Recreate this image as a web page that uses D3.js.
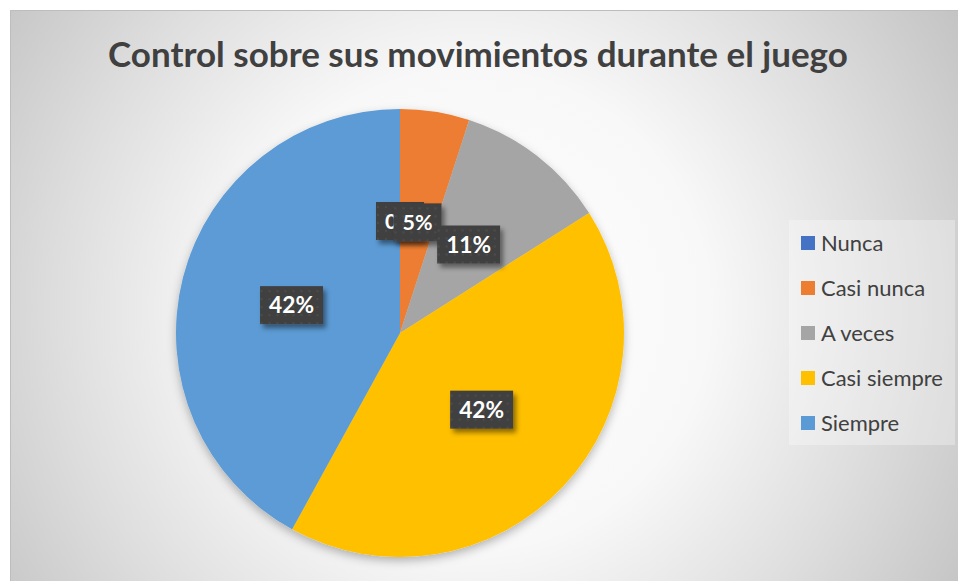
<!DOCTYPE html>
<html>
<head>
<meta charset="utf-8">
<script src="https://cdn.jsdelivr.net/npm/d3@7"></script>
<style>
  html, body { margin: 0; padding: 0; background: #ffffff; }
  svg { display: block; }
</style>
</head>
<body>
<svg id="chart" width="958" height="581"></svg>
<script>
const title = "Control sobre sus movimientos durante el juego";
const categories = ["Nunca", "Casi nunca", "A veces", "Casi siempre", "Siempre"];
const values = [0, 5, 11, 42, 42];
const colors = ["#4472C4", "#ED7D31", "#A5A5A5", "#FFC000", "#5B9BD5"];

const svg = d3.select("#chart");
const defs = svg.append("defs");

const bg = defs.append("radialGradient").attr("id", "bgGrad")
  .attr("gradientUnits", "userSpaceOnUse")
  .attr("cx", 470).attr("cy", 310).attr("r", 570);
[[0, "#ffffff"], [0.42, "#f8f8f8"], [0.72, "#dedede"], [1, "#c4c4c4"]]
  .forEach(([o, c]) => bg.append("stop").attr("offset", o).attr("stop-color", c));

const pieShadow = defs.append("filter").attr("id", "pieShadow")
  .attr("x", "-20%").attr("y", "-20%").attr("width", "140%").attr("height", "140%");
pieShadow.append("feDropShadow").attr("dx", 0).attr("dy", 4).attr("stdDeviation", 5)
  .attr("flood-color", "#000").attr("flood-opacity", 0.28);

const boxShadow = defs.append("filter").attr("id", "boxShadow")
  .attr("x", "-30%").attr("y", "-30%").attr("width", "160%").attr("height", "160%");
boxShadow.append("feDropShadow").attr("dx", 3).attr("dy", 4).attr("stdDeviation", 2.5)
  .attr("flood-color", "#000").attr("flood-opacity", 0.45);

const pat = defs.append("pattern").attr("id", "dots")
  .attr("patternUnits", "userSpaceOnUse").attr("width", 8).attr("height", 8);
pat.append("rect").attr("width", 8).attr("height", 8).attr("fill", "#404040");
pat.append("rect").attr("x", 1).attr("y", 1).attr("width", 2).attr("height", 2).attr("fill", "#4c4c4c");

// chart area
svg.append("rect").attr("x", 10).attr("y", 10).attr("width", 948).attr("height", 571)
  .attr("fill", "url(#bgGrad)");
svg.append("path").attr("d", "M10.5,581 V10.5 H958")
  .attr("fill", "none").attr("stroke", "#bdbdbd").attr("stroke-width", 1);

// title
const t = svg.append("text").text(title)
  .attr("x", 478).attr("y", 67).attr("text-anchor", "middle")
  .attr("font-family", "Lato, 'Open Sans', sans-serif").attr("font-weight", "bold")
  .attr("font-size", 32).attr("fill", "#404040");
const tw = t.node().getComputedTextLength();
t.attr("font-size", (32 * 740 / tw).toFixed(2));

// pie
const cx = 400, cy = 333, r = 224;
const pie = d3.pie().sort(null).value(d => d)(values);
const arc = d3.arc().innerRadius(0).outerRadius(r);
const g = svg.append("g").attr("transform", `translate(${cx},${cy})`);
g.append("g").attr("filter", "url(#pieShadow)")
  .selectAll("path").data(pie).join("path")
  .attr("d", arc).attr("fill", (d, i) => colors[i]);

// data labels (drawn in order so later boxes sit on top, as in the reference)
const fmt = d3.format(".0%");
const total = d3.sum(values);
pie.forEach((d, i) => {
  const [x, y] = arc.centroid(d);
  const lg = g.append("g").attr("transform", `translate(${x},${y})`);
  const rect = lg.append("rect").attr("fill", "url(#dots)").attr("filter", "url(#boxShadow)");
  const label = fmt(values[i] / total);
  const txt = lg.append("text").text(label)
    .attr("text-anchor", "middle").attr("dy", "0.36em")
    .attr("font-family", "Lato, 'Open Sans', sans-serif").attr("font-weight", "bold")
    .attr("font-size", 24).attr("fill", "#ffffff");
  const w = txt.node().getComputedTextLength();
  const target = label.length === 3 ? 45 : 30;
  txt.attr("font-size", Math.min(26, 24 * target / w).toFixed(2));
  const w2 = txt.node().getComputedTextLength();
  rect.attr("x", -(w2 + 18) / 2).attr("y", -19).attr("width", w2 + 18).attr("height", 38);
});

// legend
const legG = svg.append("g");
legG.append("rect").attr("x", 789).attr("y", 220).attr("width", 166).attr("height", 225)
  .attr("fill", "#ffffff").attr("fill-opacity", 0.3);
const rowY = d3.scalePoint().domain(categories).range([243, 423]);
categories.forEach((c, i) => {
  const y = rowY(c);
  legG.append("rect").attr("x", 801).attr("y", y - 7).attr("width", 14).attr("height", 14)
    .attr("fill", colors[i]);
  legG.append("text").attr("class", "leg").text(c).attr("x", 821).attr("y", y).attr("dy", "0.35em")
    .attr("font-family", "Lato, 'Open Sans', sans-serif").attr("font-size", 20)
    .attr("fill", "#404040");
});
const legTexts = legG.selectAll("text.leg");
const widest = legTexts.filter(function() { return d3.select(this).text() === "Casi siempre"; });
const ww = widest.node().getComputedTextLength();
legTexts.attr("font-size", (20 * 122 / ww).toFixed(2));
</script>
</body>
</html>
